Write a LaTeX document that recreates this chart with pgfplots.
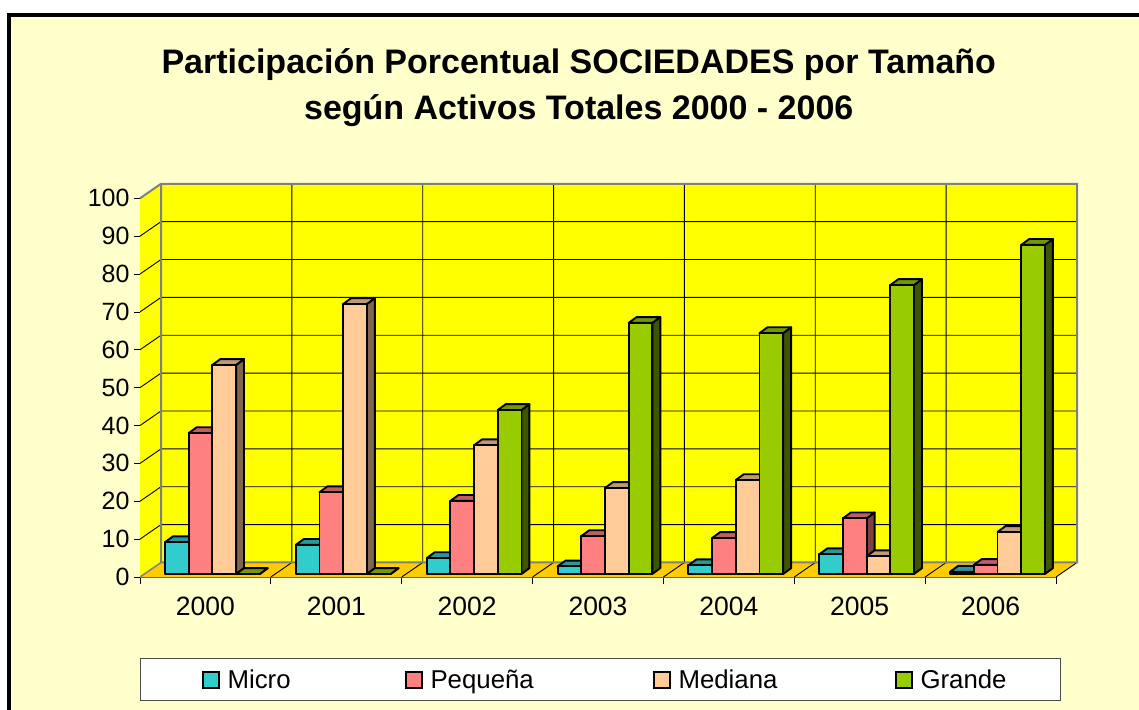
\documentclass[border=0pt]{standalone}
\usepackage{fontspec}
\setmainfont{Liberation Sans}
\usepackage{pgfplots}
\usepackage{pgfplotstable}
\pgfplotsset{compat=1.18}
\definecolor{bgc}{HTML}{FFFFCC}
\definecolor{flo}{HTML}{FFCC00}
\definecolor{wally}{HTML}{FFFF00}
\definecolor{wallb}{HTML}{808080}
\definecolor{c0}{HTML}{33CCCC}\definecolor{c0t}{HTML}{269999}\definecolor{c0s}{HTML}{1A6666}
\definecolor{c1}{HTML}{FF8080}\definecolor{c1t}{HTML}{BF6060}\definecolor{c1s}{HTML}{804040}
\definecolor{c2}{HTML}{FFCC99}\definecolor{c2t}{HTML}{BF9973}\definecolor{c2s}{HTML}{80664D}
\definecolor{c3}{HTML}{99CC00}\definecolor{c3t}{HTML}{739900}\definecolor{c3s}{HTML}{3F5500}
\pgfplotstableread{
year micro pequena mediana grande
2000 8.4 37.2 55.2 0
2001 7.7 21.6 71.3 0
2002 4.2 19.3 34.0 43.3
2003 2.0 10.0 22.7 66.3
2004 2.3 9.5 24.8 63.6
2005 5.2 14.7 4.7 76.3
2006 0.6 2.4 11.1 86.9
}\datatable
% wall depth in data units
\def\wdx{0.1605}\def\wdy{3.83}
% one bar: #1 category, #2 series index, #3 value
\newcommand\onebar[3]{%
  \pgfmathsetmacro\xa{#1+0.191+#2*0.181}%
  \pgfmathsetmacro\xb{\xa+0.181}%
  \pgfmathsetmacro\xc{\xb+0.0611}%
  \pgfmathsetmacro\xd{\xa+0.0611}%
  \pgfmathsetmacro\ya{0.79}%
  \pgfmathsetmacro\yb{0.79+#3}%
  \pgfmathsetmacro\yc{\yb+1.55}%
  \pgfmathsetmacro\ye{\ya+1.55}%
  \edef\temp{%
    \noexpand\addplot[fill=c#2s,draw=black,line width=1.9pt,line join=round,forget plot]
      coordinates {(\xb,\ya)(\xc,\ye)(\xc,\yc)(\xb,\yb)} -- cycle;
    \noexpand\addplot[fill=c#2t,draw=black,line width=1.9pt,line join=round,forget plot]
      coordinates {(\xa,\yb)(\xd,\yc)(\xc,\yc)(\xb,\yb)} -- cycle;
    \noexpand\addplot[fill=c#2,draw=black,line width=1.9pt,line join=round,forget plot]
      coordinates {(\xa,\ya)(\xa,\yb)(\xb,\yb)(\xb,\ya)} -- cycle;
  }\temp
}
\begin{document}
\begin{tikzpicture}
\useasboundingbox (0,0) rectangle (1139pt,709pt);
\clip (0,0) rectangle (1139pt,709pt);
\fill[white] (0,0) rectangle (1139pt,709pt);
\fill[black] (6.7pt,-5pt) rectangle (1145pt,695.7pt);
\fill[bgc] (10.7pt,-5pt) rectangle (1145pt,691.7pt);
\begin{axis}[
  at={(140pt,132pt)},anchor=south west,
  scale only axis,width=916pt,height=378.7pt,
  xmin=0,xmax=7,ymin=0,ymax=100,
  clip=false,
  axis x line=bottom,axis y line=left,
  axis line style={-,draw=black!65,line width=1pt},
  /pgf/number format/assume math mode=true,
  ytick={0,10,...,100},
  xtick={0.5,1.5,2.5,3.5,4.5,5.5,6.5},
  xticklabels={2000,2001,2002,2003,2004,2005,2006},
  minor xtick={0,1,2,3,4,5,6,7},
  major tick length=0pt,
  x tick style={draw=none},
  minor tick length=14pt,
  minor x tick style={draw=black,line width=0.8pt},
  y tick style={draw=none},
  xticklabel style={yshift=-16.5pt,font=\fontsize{26.5}{26.5}\selectfont,text=black},
  yticklabel style={xshift=-7pt,font=\fontsize{25}{25}\selectfont,text=black},
  title={Participación Porcentual SOCIEDADES por Tamaño\\según Activos Totales 2000 - 2006},
  title style={at={(axis description cs:0.479,1.276)},anchor=center,align=center,
    font=\fontsize{34}{46}\selectfont\bfseries},
  legend columns=4,
  legend cell align=left,
  legend style={at={(axis description cs:-0.0005,-0.2147)},anchor=north west,inner sep=0pt,
    draw=black!70,line width=1pt,fill=white,
    font=\fontsize{25.8}{26}\selectfont,
    nodes={inner sep=0pt},column sep=0pt,row sep=0pt},
  legend image code/.code={%
    \path[draw=none,fill=none] (-63.5pt,0) -- (24pt,0);
    \path[draw=none,fill=none] (0,-20.8pt) -- (0,20.8pt);
    \draw[#1,line width=1.9pt] (5.5pt,-8pt) rectangle (21.5pt,8pt);},
]
% walls and floor
\addplot[fill=wally,draw=none,forget plot] coordinates {(0,0)(\wdx,\wdy)(\wdx,103.83)(0,100)} -- cycle;
\addplot[fill=wally,draw=none,forget plot] coordinates {(\wdx,\wdy)(\wdx,103.83)(7.1605,103.83)(7.1605,\wdy)} -- cycle;
\addplot[fill=flo,draw=none,forget plot] coordinates {(0,0)(\wdx,\wdy)(7.1605,\wdy)(7,0)} -- cycle;
% horizontal grid and side-wall lines
\pgfplotsforeachungrouped \k in {10,20,...,90}{%
  \pgfmathsetmacro\yy{\k+\wdy}%
  \edef\temp{\noexpand\addplot[black,line width=0.9pt,forget plot] coordinates {(0,\k)(\wdx,\yy)(7.1605,\yy)};}\temp
}
% vertical grid and floor lines
\pgfplotsforeachungrouped \k in {1,2,...,6}{%
  \pgfmathsetmacro\xx{\k+\wdx}%
  \edef\temp{\noexpand\addplot[black,line width=0.9pt,forget plot] coordinates {(\k,0)(\xx,\wdy)(\xx,103.83)};}\temp
}
\addplot[black,line width=0.9pt,forget plot] coordinates {(7,0)(7.1605,\wdy)};
% wall frame
\addplot[wallb,line width=2pt,forget plot] coordinates {(0,100)(\wdx,103.83)(7.1605,103.83)(7.1605,\wdy)(\wdx,\wdy)(\wdx,103.83)};
\addplot[wallb,line width=1.5pt,forget plot] coordinates {(0,0)(\wdx,\wdy)};
% bars
\pgfplotsforeachungrouped \r in {0,1,...,6}{%
  \pgfplotstablegetelem{\r}{micro}\of\datatable \let\va\pgfplotsretval
  \pgfplotstablegetelem{\r}{pequena}\of\datatable \let\vb\pgfplotsretval
  \pgfplotstablegetelem{\r}{mediana}\of\datatable \let\vc\pgfplotsretval
  \pgfplotstablegetelem{\r}{grande}\of\datatable \let\vd\pgfplotsretval
  \onebar{\r}{0}{\va}\onebar{\r}{1}{\vb}\onebar{\r}{2}{\vc}\onebar{\r}{3}{\vd}%
}
% y tick marks
\pgfplotsforeachungrouped \k in {0,10,...,100}{%
  \edef\temp{\noexpand\addplot[black,line width=0.8pt,forget plot] coordinates {(-0.046,\k)(0,\k)};}\temp
}
\addlegendimage{fill=c0,draw=black}\addlegendentry{\makebox[115.5pt][l]{Micro}}
\addlegendimage{fill=c1,draw=black}\addlegendentry{\makebox[160.5pt][l]{Pequeña}}
\addlegendimage{fill=c2,draw=black}\addlegendentry{\makebox[154.5pt][l]{Mediana}}
\addlegendimage{fill=c3,draw=black}\addlegendentry{\makebox[140pt][l]{Grande}}
\end{axis}
\end{tikzpicture}
\end{document}
